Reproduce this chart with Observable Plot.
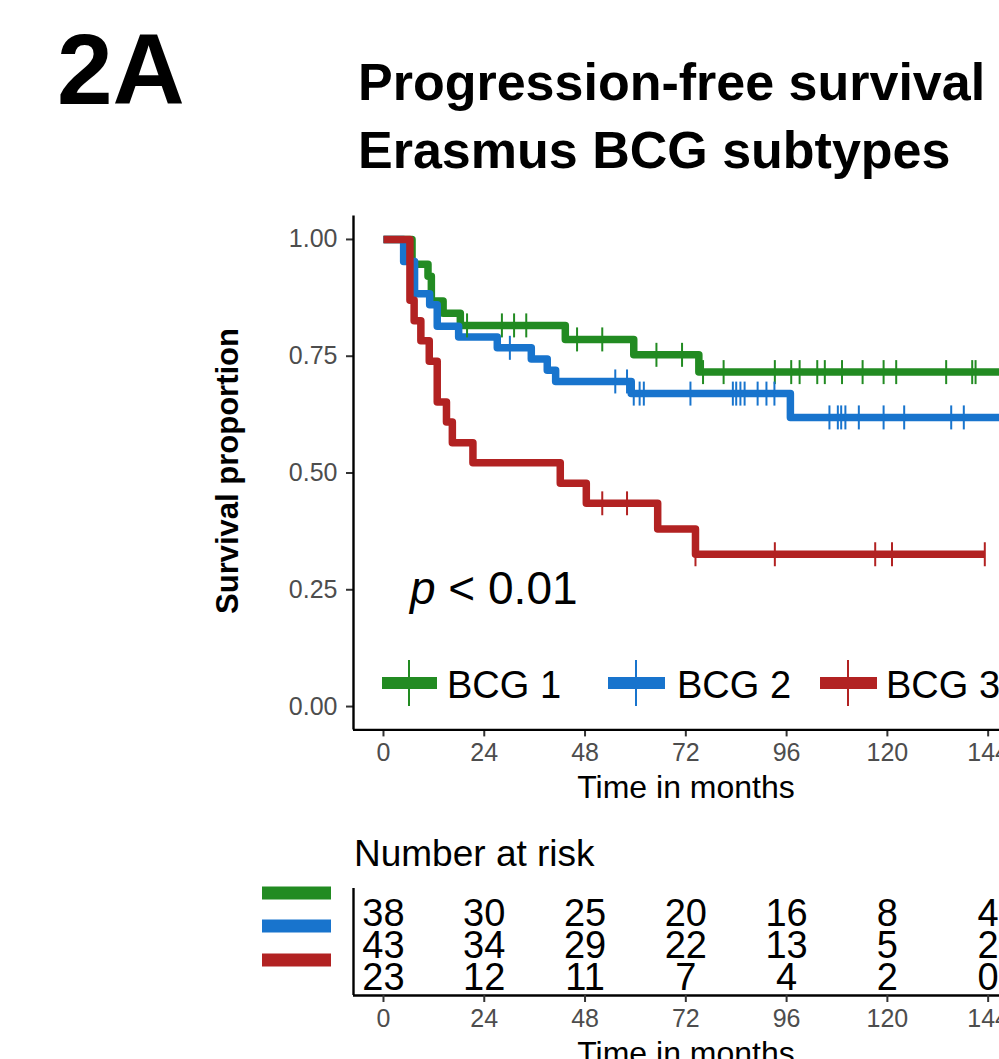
<!DOCTYPE html>
<html>
<head>
<meta charset="utf-8">
<script src="https://cdn.jsdelivr.net/npm/d3@7"></script>
<script src="https://cdn.jsdelivr.net/npm/@observablehq/plot@0.6"></script>
<style>
  body { margin: 0; background: #fff; }
  #wrap { position: relative; width: 999px; height: 1059px; overflow: hidden; background: #fff;
          font-family: "Liberation Sans", Arial, Helvetica, sans-serif; }
  #wrap > svg { position: absolute; left: 0; }
</style>
</head>
<body>
<div id="wrap"></div>
<script>
// ---------------- data ----------------
const groups = ["BCG 1", "BCG 2", "BCG 3"];
const colors = ["#228B22", "#1874CD", "#B22222"];

// Kaplan-Meier steps (time in months, survival after the step)
const bcg1Times = [0, 6.8, 10.6, 11.4, 14.2, 18.3, 43.3, 59.6, 75.1, 150];
const bcg1Surv  = [1, 0.947, 0.921, 0.868, 0.842, 0.816, 0.786, 0.753, 0.716, 0.716];
const bcg1Censor = [19.9, 28.2, 31.1, 34.0, 46.1, 52.1, 65.0, 71.1, 76.1, 81.0, 93.2, 97.1, 99.1,
                    103.3, 105.1, 109.2, 114.1, 119.1, 122.1, 134.0, 140.2, 141.0];

const bcg2Times = [0, 4.8, 7.4, 11.0, 12.8, 17.9, 27.1, 35.2, 39.0, 41.0, 59.0, 96.9, 150];
const bcg2Surv  = [1, 0.953, 0.884, 0.860, 0.814, 0.791, 0.768, 0.744, 0.720, 0.696, 0.670, 0.619, 0.619];
const bcg2Censor = [30.1, 55.2, 58.0, 59.6, 61.0, 62.0, 73.1, 83.2, 84.0, 85.0, 86.0, 89.1, 91.2, 93.1,
                    106.2, 108.2, 109.0, 110.0, 113.2, 119.1, 124.0, 135.2, 138.2];

const bcg3Times = [0, 6.3, 7.3, 8.9, 10.9, 12.8, 15.0, 16.4, 21.3, 42.1, 48.3, 65.3, 74.3, 143.2];
const bcg3Surv  = [1, 0.870, 0.826, 0.783, 0.739, 0.652, 0.609, 0.565, 0.522, 0.478, 0.435, 0.380, 0.326, 0.326];
const bcg3Censor = [52.1, 58.0, 74.3, 93.2, 117.1, 121.1, 143.2];

// number at risk table
const riskTimes = [0, 24, 48, 72, 96, 120, 144];
const riskBCG1 = [38, 30, 25, 20, 16, 8, 4];
const riskBCG2 = [43, 34, 29, 22, 13, 5, 2];
const riskBCG3 = [23, 12, 11, 7, 4, 2, 0];

const xTicks = [0, 24, 48, 72, 96, 120, 144];
const yTicks = [0, 0.25, 0.5, 0.75, 1];
const xDomain = [-7.14, 146.7];
const yDomain = [-0.05, 1.05];

// ---------------- build tables ----------------
const series = [
  {g: groups[0], t: bcg1Times, s: bcg1Surv, c: bcg1Censor},
  {g: groups[1], t: bcg2Times, s: bcg2Surv, c: bcg2Censor},
  {g: groups[2], t: bcg3Times, s: bcg3Surv, c: bcg3Censor}
];
const steps = [];
const censors = [];
for (const sr of series) {
  sr.t.forEach((t, i) => steps.push({group: sr.g, time: t, surv: sr.s[i]}));
  for (const ct of sr.c) {
    let v = 1;
    sr.t.forEach((t, i) => { if (t <= ct) v = sr.s[i]; });
    censors.push({group: sr.g, time: ct, surv: v});
  }
}
const riskRows = [];
[riskBCG1, riskBCG2, riskBCG3].forEach((arr, gi) =>
  arr.forEach((n, i) => riskRows.push({group: groups[gi], time: riskTimes[i], n})));

const FONT = '"Liberation Sans", Arial, Helvetica, sans-serif';
const vtick = {draw(ctx, size) { const r = Math.sqrt(size / Math.PI); ctx.moveTo(0, -r); ctx.lineTo(0, r); }};

// ---------------- main KM plot ----------------
const main = Plot.plot({
  width: 999, height: 820,
  marginLeft: 353, marginRight: 0, marginTop: 215.6, marginBottom: 90.6,
  style: {fontFamily: FONT, background: "transparent", overflow: "visible"},
  x: {domain: xDomain},
  y: {domain: yDomain},
  color: {domain: groups, range: colors},
  marks: [
    Plot.line(steps, {x: "time", y: "surv", z: "group", stroke: "group", strokeWidth: 7.5,
      curve: "step-after", strokeLinejoin: "round", strokeLinecap: "butt", clip: true}),
    Plot.dot(censors, {x: "time", y: "surv", stroke: "group", fill: "none", symbol: vtick,
      r: 12, strokeWidth: 2, clip: true}),
    Plot.axisX({ticks: xTicks, tickSize: 7, tickPadding: 6, fontSize: 25, stroke: "#333",
      fill: "#4d4d4d", strokeWidth: 2, label: null}),
    Plot.axisY({ticks: yTicks, tickSize: 7, tickPadding: 9, fontSize: 25, stroke: "#333",
      fill: "#4d4d4d", strokeWidth: 2, label: null, tickFormat: d => d.toFixed(2)}),
    Plot.ruleX([xDomain[0]], {stroke: "black", strokeWidth: 2.4}),
    Plot.ruleY([yDomain[0]], {stroke: "black", strokeWidth: 2.4})
  ]
});
main.style.top = "0px";

// ---------------- risk table ----------------
const risk = Plot.plot({
  width: 999, height: 199,
  marginLeft: 353, marginRight: 0, marginTop: 28, marginBottom: 64,
  style: {fontFamily: FONT, background: "transparent", overflow: "visible"},
  x: {domain: xDomain},
  y: {type: "point", domain: groups, padding: 0.55, insetTop: 6, axis: null},
  marks: [
    Plot.text(riskRows, {x: "time", y: "group", text: "n", fontSize: 38, fill: "black"}),
    Plot.axisX({ticks: xTicks, tickSize: 7, tickPadding: 7, fontSize: 25, stroke: "#333",
      fill: "#4d4d4d", strokeWidth: 2, label: null}),
    Plot.ruleX([xDomain[0]], {stroke: "black", strokeWidth: 2.4})
  ]
});
risk.style.top = "860px";

// bottom axis line of the table
const riskFrame = Plot.plot({
  width: 999, height: 199,
  marginLeft: 353, marginRight: 0, marginTop: 28, marginBottom: 64,
  style: {background: "transparent", overflow: "visible"},
  x: {domain: xDomain, axis: null},
  y: {domain: [0, 1], axis: null},
  marks: [Plot.ruleY([0], {stroke: "black", strokeWidth: 2.4})]
});
riskFrame.style.top = "860px";

// ---------------- annotations overlay ----------------
const legendX = [[382, 437, 409, 447], [608, 665, 636, 677], [820, 877, 848, 886]];
const swatchY = [893, 926, 960];
let ov = `<svg xmlns="http://www.w3.org/2000/svg" width="999" height="1059" style="top:0;font-family:${FONT.replace(/"/g, "'")}">`;
ov += `<text x="57" y="104" font-size="100" font-weight="bold">2A</text>`;
ov += `<text x="358" y="100" font-size="52" font-weight="bold">Progression-free survival</text>`;
ov += `<text x="358" y="168" font-size="52" font-weight="bold">Erasmus BCG subtypes</text>`;
ov += `<text transform="translate(238,471) rotate(-90)" text-anchor="middle" font-size="31" font-weight="bold">Survival proportion</text>`;
ov += `<text x="686" y="798" text-anchor="middle" font-size="32">Time in months</text>`;
ov += `<text x="410" y="604" font-size="46"><tspan font-style="italic">p</tspan> &lt; 0.01</text>`;
groups.forEach((g, i) => {
  const [a, b, m, tx] = legendX[i];
  ov += `<rect x="${a}" y="677" width="${b - a}" height="12" fill="${colors[i]}"/>`;
  ov += `<rect x="${m - 1}" y="660" width="2" height="46" fill="${colors[i]}"/>`;
  ov += `<text x="${tx}" y="698" font-size="38">${g}</text>`;
  ov += `<rect x="262" y="${swatchY[i] - 6.5}" width="69" height="13" fill="${colors[i]}"/>`;
});
ov += `<text x="354" y="866" font-size="37">Number at risk</text>`;
ov += `<text x="686" y="1064" text-anchor="middle" font-size="32">Time in months</text>`;
ov += `</svg>`;

const wrap = document.getElementById("wrap");
wrap.appendChild(main);
wrap.appendChild(riskFrame);
wrap.appendChild(risk);
wrap.insertAdjacentHTML("beforeend", ov);
</script>
</body>
</html>
